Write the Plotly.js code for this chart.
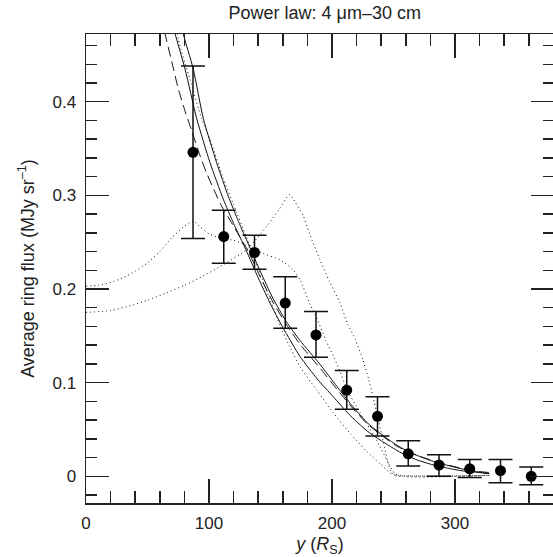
<!DOCTYPE html>
<html>
<head>
<meta charset="utf-8">
<script src="https://cdn.plot.ly/plotly-3.0.1.min.js"></script>
<style>
html,body{margin:0;padding:0;background:#fff;overflow:hidden;}
#chart{width:556px;height:557px;}
</style>
</head>
<body>
<div id="chart"></div>
<script>
// Observed ring flux (points with error bars)
const obsX = [87, 112, 137, 162, 187, 212, 237, 262, 287, 312, 337, 362];
const obsY = [0.346, 0.256, 0.239, 0.185, 0.151, 0.092, 0.064, 0.024, 0.012, 0.008, 0.006, 0.000];
const obsErrPlus  = [0.092, 0.028, 0.0185, 0.028, 0.025, 0.021, 0.021, 0.014, 0.011, 0.010, 0.012, 0.010];
const obsErrMinus = [0.092, 0.0285, 0.018, 0.027, 0.024, 0.0205, 0.021, 0.013, 0.012, 0.0094, 0.0128, 0.009];

// Model curves
const solid1X = [70, 72.4, 80.5, 90, 100.8, 111.6, 120, 130, 140, 150, 160, 174, 188, 201, 214, 228, 240, 255, 268, 280, 293, 305, 315, 328];
const solid1Y = [0.49, 0.473, 0.435, 0.382, 0.335, 0.296, 0.27, 0.242, 0.212, 0.184, 0.159, 0.128, 0.104, 0.085, 0.066, 0.049, 0.038, 0.026, 0.018, 0.013, 0.009, 0.006, 0.0046, 0.003];

const solid2X = [77, 79, 87.2, 95.4, 106.2, 115.7, 124, 132, 142, 152, 163, 174, 190, 204, 216, 228, 240, 253, 266, 280, 293, 307, 320, 326];
const solid2Y = [0.49, 0.473, 0.435, 0.382, 0.335, 0.299, 0.272, 0.248, 0.218, 0.19, 0.165, 0.145, 0.120, 0.096, 0.076, 0.058, 0.045, 0.033, 0.024, 0.017, 0.012, 0.0075, 0.0045, 0.003];

const dashX = [62, 64.2, 69.7, 75, 81, 86, 92, 98, 104, 110, 116, 124, 132, 142, 152, 163, 174, 190, 204, 216, 228, 240, 253, 266, 280, 293, 307, 320, 328];
const dashY = [0.49, 0.473, 0.443, 0.414, 0.388, 0.369, 0.345, 0.324, 0.306, 0.289, 0.276, 0.258, 0.240, 0.212, 0.186, 0.162, 0.141, 0.116, 0.093, 0.074, 0.057, 0.044, 0.032, 0.024, 0.0175, 0.0125, 0.008, 0.005, 0.004];

const dotCX = [73.5, 75, 84.5, 94, 100.8, 111.6, 120, 130, 140, 150, 160, 167, 174, 187.6, 201, 214.6, 228, 239, 247, 252, 328];
const dotCY = [0.49, 0.467, 0.424, 0.382, 0.36, 0.318, 0.29, 0.257, 0.222, 0.187, 0.154, 0.135, 0.117, 0.092, 0.068, 0.046, 0.027, 0.0136, 0.004, 0.001, 0.001];

const dotAX = [0, 10, 20, 30, 40, 50, 60, 70, 80, 87, 93, 100, 110, 120, 130, 144, 158, 168, 174, 182, 188, 195, 202, 214, 223, 236, 246, 251, 256, 328];
const dotAY = [0.203, 0.204, 0.207, 0.212, 0.219, 0.228, 0.240, 0.255, 0.267, 0.2726, 0.266, 0.259, 0.254, 0.252, 0.247, 0.238, 0.231, 0.221, 0.21, 0.184, 0.168, 0.145, 0.126, 0.088, 0.068, 0.039, 0.014, 0.003, 0.001, 0.001];

const dotBX = [0, 20, 38.5, 50, 65.6, 80, 92.7, 111.6, 130.6, 146.9, 157, 165.5, 170, 176.7, 182, 190, 198, 206.5, 213, 219, 225, 230, 236, 242, 247, 251, 328];
const dotBY = [0.175, 0.177, 0.183, 0.188, 0.196, 0.204, 0.212, 0.226, 0.242, 0.267, 0.285, 0.301, 0.293, 0.278, 0.258, 0.232, 0.208, 0.185, 0.162, 0.146, 0.125, 0.103, 0.07, 0.035, 0.008, 0.001, 0.001];

const lineCol = '#111';
function model(x, y, dash) {
  return {x: x, y: y, type: 'scatter', mode: 'lines', hoverinfo: 'skip',
          line: {color: lineCol, width: 1, dash: dash, shape: 'spline', smoothing: 0.6}};
}

const traces = [
  model(dotAX, dotAY, '1px,3px'),
  model(dotBX, dotBY, '1px,3px'),
  model(dotCX, dotCY, '1px,3px'),
  model(dashX, dashY, '10px,5px'),
  model(solid1X, solid1Y, 'solid'),
  model(solid2X, solid2Y, 'solid'),
  {x: obsX, y: obsY, type: 'scatter', mode: 'markers',
   marker: {color: '#000', size: 11},
   error_y: {type: 'data', symmetric: false, array: obsErrPlus, arrayminus: obsErrMinus,
             color: '#111', thickness: 1.5, width: 12}}
];

const font = {family: 'Liberation Sans, Arial, Helvetica, sans-serif', color: '#222'};
const layout = {
  width: 556, height: 557,
  margin: {l: 86, r: 2, t: 34, b: 54.3},
  paper_bgcolor: '#fff', plot_bgcolor: '#fff',
  showlegend: false,
  font: Object.assign({size: 17}, font),
  title: {text: 'Power law: 4 μm–30 cm', font: Object.assign({size: 18}, font),
          x: 0.584, xanchor: 'center', y: 0.978, yanchor: 'middle'},
  xaxis: {
    range: [0, 380.5], tick0: 0, dtick: 100, ticks: 'inside', ticklen: 24, tickwidth: 1.5,
    tickcolor: '#222', showline: true, linecolor: '#222', linewidth: 1.5, mirror: 'ticks',
    showgrid: false, zeroline: false, ticklabelstandoff: 4,
    tickfont: Object.assign({size: 17}, font),
    minor: {dtick: 20, ticks: 'inside', ticklen: 12, tickwidth: 1.5, tickcolor: '#222', showgrid: false},
    title: {text: '<i>y</i> (<i>R</i><sub>S</sub>)', font: Object.assign({size: 18}, font), standoff: 6}
  },
  yaxis: {
    range: [-0.0285, 0.4723], tick0: 0, dtick: 0.1, ticks: 'inside', ticklen: 23, tickwidth: 1.5,
    tickcolor: '#222', showline: true, linecolor: '#222', linewidth: 1.5, mirror: 'ticks',
    showgrid: false, zeroline: false, ticklabelstandoff: 5,
    tickfont: Object.assign({size: 17}, font),
    minor: {dtick: 0.02, ticks: 'inside', ticklen: 11, tickwidth: 1.5, tickcolor: '#222', showgrid: false},
    title: {text: 'Average ring flux (MJy sr<sup>–1</sup>)', font: Object.assign({size: 18}, font), standoff: 13}
  }
};

Plotly.newPlot('chart', traces, layout, {displayModeBar: false, staticPlot: true});
</script>
</body>
</html>
